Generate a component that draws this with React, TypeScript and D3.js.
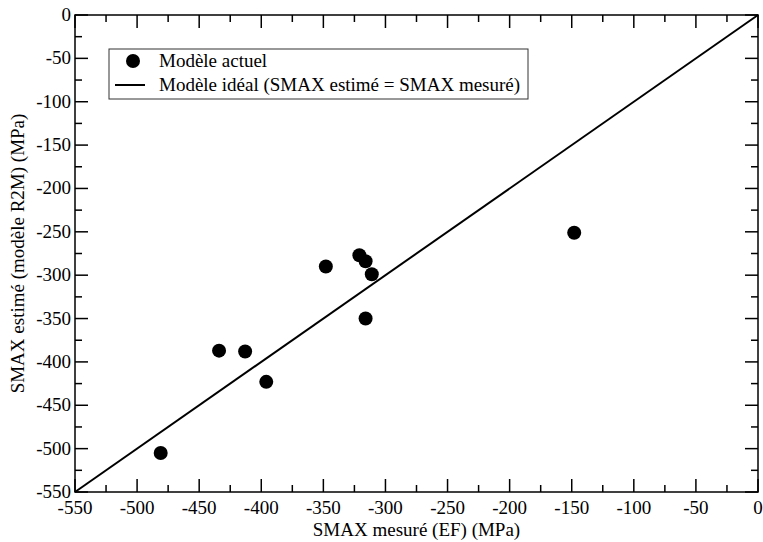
import React from "react";
import * as d3 from "d3";

const measured = [-481, -434, -413, -396, -348, -321, -316, -311, -316, -148];
const estimated = [-505, -387, -388, -423, -290, -277, -284, -299, -350, -251];
const majorTicks = [-550, -500, -450, -400, -350, -300, -250, -200, -150, -100, -50, 0];
const minorTicks = [-525, -475, -425, -375, -325, -275, -225, -175, -125, -75, -25];
const idealLine: [number, number][] = [[-550, -550], [0, 0]];
const legendLabels = ["Modèle actuel", "Modèle idéal (SMAX estimé = SMAX mesuré)"];
const xTitle = "SMAX mesuré (EF) (MPa)";
const yTitle = "SMAX estimé (modèle R2M) (MPa)";

const W = 763, H = 542;
const L = 75, R = 758, T = 15, B = 492;
const FONT = "'Liberation Serif', 'DejaVu Serif', serif";
const FS = 19;

export default function App() {
  const x = d3.scaleLinear().domain([-550, 0]).range([L, R]);
  const y = d3.scaleLinear().domain([-550, 0]).range([B, T]);
  const line = d3.line<[number, number]>().x(d => x(d[0])).y(d => y(d[1]));
  const points = measured.map((m, i) => [m, estimated[i]] as [number, number]);
  const major = 13, minor = 7;
  return (
    <svg width={W} height={H} style={{ position: "absolute", left: 0, top: 0, background: "#fff" }} fontFamily={FONT}>
      <rect x={0} y={0} width={W} height={H} fill="#fff" />
      <path d={line(idealLine) || ""} stroke="#000" strokeWidth={2} fill="none" />
      {points.map((p, i) => (
        <circle key={i} cx={x(p[0])} cy={y(p[1])} r={7} fill="#000" />
      ))}
      <rect x={L} y={T} width={R - L} height={B - T} fill="none" stroke="#000" strokeWidth={1.5} />
      {majorTicks.map(t => (
        <g key={"mx" + t}>
          <line x1={x(t)} x2={x(t)} y1={B} y2={B - major} stroke="#000" strokeWidth={1.5} />
          <line x1={x(t)} x2={x(t)} y1={T} y2={T + major} stroke="#000" strokeWidth={1.5} />
          <line y1={y(t)} y2={y(t)} x1={L} x2={L + major} stroke="#000" strokeWidth={1.5} />
          <line y1={y(t)} y2={y(t)} x1={R} x2={R - major} stroke="#000" strokeWidth={1.5} />
          <text x={x(t)} y={B + 22} textAnchor="middle" fontSize={FS}>{t}</text>
          <text x={L - 4} y={y(t) + 6} textAnchor="end" fontSize={FS}>{t}</text>
        </g>
      ))}
      {minorTicks.map(t => (
        <g key={"mn" + t}>
          <line x1={x(t)} x2={x(t)} y1={B} y2={B - minor} stroke="#000" strokeWidth={1.5} />
          <line x1={x(t)} x2={x(t)} y1={T} y2={T + minor} stroke="#000" strokeWidth={1.5} />
          <line y1={y(t)} y2={y(t)} x1={L} x2={L + minor} stroke="#000" strokeWidth={1.5} />
          <line y1={y(t)} y2={y(t)} x1={R} x2={R - minor} stroke="#000" strokeWidth={1.5} />
        </g>
      ))}
      <text x={(L + R) / 2} y={536} textAnchor="middle" fontSize={FS}>{xTitle}</text>
      <text transform={`translate(24,${(T + B) / 2}) rotate(-90)`} textAnchor="middle" fontSize={FS}>{yTitle}</text>
      <rect x={109} y={49} width={419} height={50} fill="#fff" stroke="#333" strokeWidth={1} />
      <circle cx={133} cy={61} r={7} fill="#000" />
      <line x1={115} x2={145} y1={85} y2={85} stroke="#000" strokeWidth={2} />
      <text x={159} y={67} fontSize={FS}>{legendLabels[0]}</text>
      <text x={159} y={91} fontSize={FS}>{legendLabels[1]}</text>
    </svg>
  );
}
